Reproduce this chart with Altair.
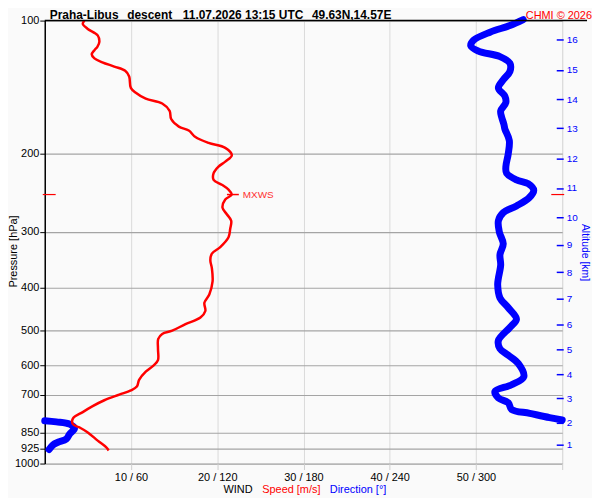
import altair as alt
import pandas as pd

# ---------------- data ----------------
TITLE_PARTS = ["Praha-Libus", "descent", "11.07.2026 13:15 UTC", "49.63N,14.57E"]
CREDIT = "CHMI \u00a9 2026"
BOTTOM_PARTS = ["WIND", "Speed [m/s]", "Direction [\u00b0]"]

P_TICKS = [100, 200, 300, 400, 500, 600, 700, 850, 925, 1000]
SPEED_TICKS = [10, 20, 30, 40, 50, 60]
DIR_TICKS = [60, 120, 180, 240, 300, 360]
ALT_KM = [1, 2, 3, 4, 5, 6, 7, 8, 9, 10, 11, 12, 13, 14, 15, 16]
ALT_P = [905.0, 807.8, 711.6, 627.9, 552.4, 484.4, 424.9, 369.6,
         320.6, 278.3, 238.7, 204.7, 174.9, 150.6, 129.2, 110.4]

SPEED_P = [100.0, 101.7, 104.3, 108.0, 111.7, 114.6, 116.6, 119.2, 121.7, 124.2,
           127.0, 129.8, 133.7, 141.9, 145.5, 150.1, 153.9, 159.9, 166.8, 173.5,
           177.1, 183.2, 188.9, 193.8, 201.3, 208.2, 213.6, 221.1, 228.8, 234.7,
           240.8, 247.0, 253.4, 264.4, 273.6, 283.0, 295.4, 308.3, 324.5, 335.7,
           347.2, 362.4, 388.1, 415.3, 433.6, 452.4, 468.1, 484.4, 501.2, 509.7,
           522.9, 550.4, 584.3, 599.5, 620.4, 647.3, 669.9, 683.8, 698.9, 719.6,
           742.0, 765.2, 791.5, 815.0, 828.9, 850.5, 887.7, 918.3, 934.1]
SPEED = [4.61, 4.41, 4.95, 6.14, 6.33, 6.10, 5.76, 5.45, 5.76, 6.68,
         8.06, 9.33, 9.79, 9.98, 10.56, 11.71, 13.62, 14.48, 14.66, 15.55,
         16.70, 17.47, 19.00, 20.93, 21.69, 20.93, 20.15, 19.58, 19.58, 20.53,
         21.31, 21.69, 20.93, 20.61, 21.11, 21.62, 21.50, 21.31, 20.35, 19.38,
         19.20, 19.38, 19.46, 19.08, 18.51, 18.62, 18.05, 16.32, 14.78, 13.62,
         13.16, 13.13, 13.13, 12.67, 11.71, 10.94, 10.68, 9.98, 8.64, 6.91,
         5.56, 4.41, 3.26, 3.26, 4.03, 4.99, 6.14, 7.11, 7.41]

DIR_P = [99.5, 102.6, 106.2, 110.8, 114.1, 117.2, 120.6, 124.8, 130.3, 136.0,
         141.9, 148.1, 153.1, 159.9, 165.3, 171.2, 175.6, 186.4, 199.5, 213.6,
         221.1, 228.8, 233.5, 241.5, 251.2, 262.1, 271.3, 283.0, 300.4, 319.0,
         337.4, 356.3, 381.6, 394.7, 422.7, 444.9, 472.1, 492.9, 527.5, 550.4,
         569.6, 594.3, 636.6, 664.0, 687.3, 710.9, 729.3, 754.7, 770.2, 787.5,
         797.3,
         800.4, 805.4, 815.0, 833.3, 857.7, 880.2, 895.3, 907.7, 929.4]
DIR = [332.9, 323.6, 309.8, 298.3, 296.4, 301.7, 316.7, 323.6, 323.6, 319.0,
       315.6, 320.1, 320.8, 317.2, 317.9, 319.4, 320.1, 323.2, 322.5, 320.8,
       321.3, 328.2, 336.3, 340.2, 337.0, 328.2, 319.0, 315.6, 316.3, 319.0,
       316.7, 317.2, 315.6, 315.1, 316.7, 322.5, 328.2, 323.6, 315.6, 316.7,
       322.5, 329.4, 333.3, 324.8, 313.2, 315.6, 322.5, 324.8, 337.4, 351.2,
       360.0,
       0.0, 8.1, 17.3, 20.7, 17.3, 15.0, 9.2, 5.7, 3.0]
DIR_SEG = [1] * 51 + [2] * 9

MXWS_P = 247.0
MXWS_SPEED = 21.7

# ---------------- tables ----------------
speed_df = pd.DataFrame({"p": SPEED_P, "speed": SPEED, "i": range(len(SPEED))})
dir_df = pd.DataFrame({"p": DIR_P, "dir": DIR, "seg": DIR_SEG, "i": range(len(DIR))})
mx_df = pd.DataFrame({"p": [MXWS_P], "speed": [MXWS_SPEED], "label": ["MXWS"]})
one = pd.DataFrame({"a": [0]})

W, H = 521, 446
FONT = "Liberation Sans"

yscale = alt.Scale(type="log", domain=[100, 1000], reverse=True, nice=False)
xspeed = alt.Scale(domain=[0, 60], nice=False, zero=True)
xdir = alt.Scale(domain=[0, 360], nice=False, zero=True)

x_labels = [f"{s} / {d}" for s, d in zip(SPEED_TICKS, DIR_TICKS)]
x_labels[-1] = ""
x_label_expr = "[" + ",".join(f"'{t}'" for t in x_labels) + "][indexof([" + \
    ",".join(str(v) for v in SPEED_TICKS) + "], datum.value)]"
alt_label_expr = "[" + ",".join(f"'{k}'" for k in ALT_KM) + "][indexof([" + \
    ",".join(str(v) for v in ALT_P) + "], datum.value)]"

left_axis = alt.Axis(values=P_TICKS, format="d", grid=True, gridColor="#a4a4a4",
                     gridWidth=1.2, domain=True, domainColor="#000000", domainWidth=1.5,
                     ticks=True, tickColor="#000000", tickSize=5, labelFontSize=11,
                     labelColor="#000000", labelPadding=1, title=None, orient="left",
                     labelFont=FONT)
bottom_axis = alt.Axis(values=SPEED_TICKS, labelExpr=x_label_expr, grid=True,
                       gridColor="#dadada", gridWidth=1, domain=False, ticks=True,
                       tickColor="#cfcfcf", tickSize=6, labelFontSize=11,
                       labelColor="#000000", labelPadding=2, title=None,
                       labelFont=FONT, labelFlush=False)
right_axis = alt.Axis(values=ALT_P, labelExpr=alt_label_expr, orient="right",
                      grid=False, domain=False, ticks=True, tickColor="#0000ff",
                      tickWidth=1.5, tickSize=7, offset=-6, labelColor="#0000ff",
                      labelFontSize=10, labelPadding=3, title=None, labelFont=FONT)

blue = alt.Chart(dir_df).mark_line(color="#0000ff", strokeWidth=7, strokeCap="round",
                                   strokeJoin="round", interpolate="catmull-rom").encode(
    x=alt.X("dir:Q", scale=xdir, axis=None),
    y=alt.Y("p:Q", scale=yscale, axis=right_axis),
    detail="seg:N",
    order="i:Q",
)

red = alt.Chart(speed_df).mark_line(color="#ff0000", strokeWidth=2.5,
                                    strokeJoin="round", interpolate="catmull-rom").encode(
    x=alt.X("speed:Q", scale=xspeed, axis=bottom_axis),
    y=alt.Y("p:Q", scale=yscale, axis=left_axis),
    order="i:Q",
)

mx_tick = alt.Chart(mx_df).mark_rule(color="#ff0000", strokeWidth=1.5,
                                     xOffset=-5, x2Offset=7).encode(
    x=alt.X("speed:Q", scale=xspeed, axis=None),
    x2="speed:Q",
    y=alt.Y("p:Q", scale=yscale, axis=None),
)
mx_left = alt.Chart(mx_df).mark_rule(color="#ff0000", strokeWidth=1.2).encode(
    x=alt.value(-2), x2=alt.value(11), y=alt.Y("p:Q", scale=yscale, axis=None))
mx_right = alt.Chart(mx_df).mark_rule(color="#ff0000", strokeWidth=1.2).encode(
    x=alt.value(510), x2=alt.value(523), y=alt.Y("p:Q", scale=yscale, axis=None))
mx_text = alt.Chart(mx_df).mark_text(color="#ff3030", fontSize=10, align="left",
                                     baseline="middle", dx=11, font=FONT).encode(
    x=alt.X("speed:Q", scale=xspeed, axis=None),
    y=alt.Y("p:Q", scale=yscale, axis=None),
    text="label:N",
)

top_line = alt.Chart(one).mark_rule(color="#000000", strokeWidth=1.5).encode(
    x=alt.value(0), x2=alt.value(546), y=alt.value(0))

def txt(s, x, y, **kw):
    return alt.Chart(one).mark_text(font=FONT, **kw).encode(
        x=alt.value(x), y=alt.value(y), text=alt.value(s))

title_x = [5, 83, 139, 269]
TY = -1.8
titles = [txt(s, x, TY, fontSize=12, fontWeight="bold", align="left",
              baseline="alphabetic", color="#000000")
          for s, x in zip(TITLE_PARTS, title_x)]
credit = txt(CREDIT, 551, TY, fontSize=11, align="right", baseline="alphabetic",
             color="#ff0000")
bottom_cols = ["#000000", "#ff0000", "#0000ff"]
bottom_x = [180, 219, 287]
bottoms = [txt(s, x, 476, fontSize=11, align="left", baseline="alphabetic", color=c)
           for s, x, c in zip(BOTTOM_PARTS, bottom_x, bottom_cols)]
p_title = txt("Pressure [hPa]", -31, 232.5, fontSize=11, angle=270, align="center",
              baseline="middle", color="#000000")
a_title = txt("Altitude [km]", 544, 233.5, fontSize=10.5, angle=90, align="center",
              baseline="middle", color="#0000ff")

chart = alt.layer(
    blue, red, mx_tick, mx_left, mx_right, mx_text, top_line,
    *titles, credit, *bottoms, p_title, a_title,
).resolve_scale(x="independent").resolve_axis(y="independent", x="independent").properties(
    width=W, height=H,
    autosize=alt.AutoSizeParams(type="none"),
    padding={"left": 37, "top": 11, "right": 30, "bottom": 33},
    background="#fafafa",
).configure_view(stroke=None, fill="#f1f1fd").configure(font=FONT)

chart.save("out.html", embed_options={"renderer": "svg", "actions": False})
